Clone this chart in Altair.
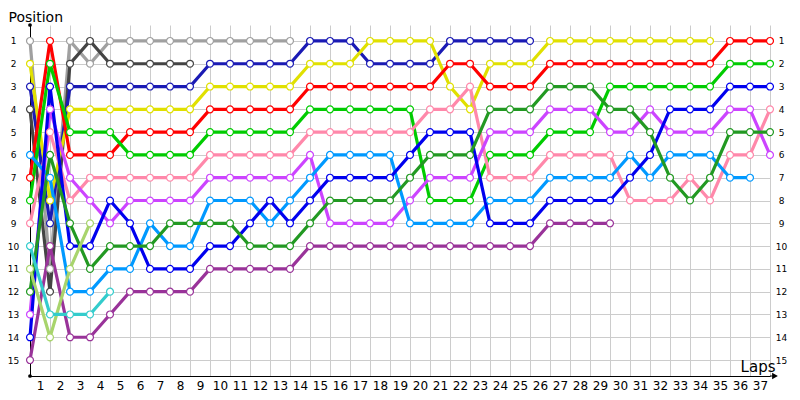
import altair as alt
import pandas as pd

# Lap positions (index 0 = starting grid, index k = lap k)
grey = [1, 11, 1, 2] + [1] * 10
black = [4, 12, 2, 1, 2, 2, 2, 2, 2]
darkblue = [3, 9, 3, 3, 3, 3, 3, 3, 3] + [2] * 5 + [1] * 3 + [2] * 4 + [1] * 5
yellow = [2, 8] + [4] * 7 + [3] * 5 + [2] * 3 + [1] * 4 + [3, 4] + [2] * 3 + [1] * 9
red = [7, 1] + [6] * 3 + [5] * 4 + [4] * 5 + [3] * 7 + [2] * 2 + [3] * 3 + [2] * 9 + [1] * 3
green = [8, 2] + [5] * 3 + [6] * 4 + [5] * 5 + [4] * 6 + [8] * 3 + [6] * 3 + [5] * 3 + [3] * 6 + [2] * 3
pink = [9, 5, 8] + [7] * 6 + [6] * 5 + [5] * 6 + [4] * 2 + [3] + [7] * 3 + [6] * 4 + [8] * 3 + [7] + [8] + [6] * 2 + [4]
magenta = [13, 4, 7, 8, 9] + [8] * 4 + [7] * 5 + [6] + [9] * 4 + [8] + [7] * 3 + [5] * 3 + [4] * 3 + [5] * 2 + [4] + [5] * 3 + [4] * 2 + [6]
lightblue = [6, 7, 12, 12, 11, 11, 9, 10, 10, 8, 8, 8, 9, 8, 7] + [6] * 4 + [9] * 4 + [8] * 3 + [7] * 4 + [6] + [7] + [6] * 3 + [7] * 2
blue = [14, 3, 10, 10, 8, 9, 11, 11, 11, 10, 10, 9, 8, 9, 8] + [7] * 4 + [6] + [5] * 3 + [9] * 3 + [8] * 4 + [7] + [6] + [4] * 3 + [3] * 3
darkgreen = [12, 6, 9, 11, 10, 10, 10, 9, 9, 9, 9, 10, 10, 10, 9] + [8] * 4 + [7] + [6] * 3 + [4] * 3 + [3] * 3 + [4] * 2 + [5] + [7] + [8] + [7] + [5] * 3
purple = [15, 10, 14, 14, 13, 12, 12, 12, 12] + [11] * 5 + [10] * 12 + [9] * 4
olive = [11, 14, 11, 9]
cyan = [10, 13, 13, 13, 12]

drivers = ["grey", "black", "darkblue", "yellow", "red", "green", "pink",
           "magenta", "lightblue", "blue", "darkgreen", "purple", "olive", "cyan"]
series = [grey, black, darkblue, yellow, red, green, pink,
          magenta, lightblue, blue, darkgreen, purple, olive, cyan]
colors = ["#a0a0a0", "#444444", "#1a1ab4", "#e0e000", "#ff0000", "#00cc00", "#ff88aa",
          "#cc44ff", "#0099ff", "#0000ee", "#229922", "#993399", "#a8d46c", "#33cccc"]

lap_ticks = list(range(1, 38))
pos_ticks = list(range(1, 16))

rows = []
for name, vals in zip(drivers, series):
    for lap, p in enumerate(vals):
        rows.append({"driver": name, "lap": lap, "pos": p})
df = pd.DataFrame(rows)

FONT = "DejaVu Sans"

x_enc = alt.X(
    "lap:Q",
    scale=alt.Scale(domain=[0, 37], nice=False, zero=False),
    axis=alt.Axis(
        values=lap_ticks, labelOffset=-10, ticks=False, labelFlush=False, labelOverlap=False,
        domainColor="black", gridColor="#cccccc", labelFontSize=12, labelPadding=4,
        labelFont=FONT, labelColor="black", title="Laps", titleX=745, titleY=-5,
        titleAlign="right", titleBaseline="alphabetic", titleFontSize=15,
        titleFontWeight="normal", titleFont=FONT, titleColor="black",
    ),
)
y_scale = alt.Scale(domain=[0.3, 15.7], reverse=True, nice=False, zero=False)
color_enc = alt.Color("driver:N", scale=alt.Scale(domain=drivers, range=colors), legend=None)

lines = alt.Chart(df).mark_line(strokeWidth=3.2).encode(
    x=x_enc,
    y=alt.Y("pos:Q", scale=y_scale, axis=alt.Axis(
        orient="left", values=pos_ticks, ticks=False, domainColor="black",
        gridColor="#cccccc", labelFontSize=9, labelFont=FONT, labelColor="black",
        labelAlign="center", labelPadding=17, labelBaseline="middle",
        title="Position", titleAngle=0, titleX=-22, titleY=-4, titleAlign="left",
        titleBaseline="alphabetic", titleFontSize=14, titleFontWeight="normal",
        titleFont=FONT, titleColor="black",
    )),
    color=color_enc,
    detail="driver:N",
)

points = alt.Chart(df).mark_point(
    shape="circle", filled=False, fill="white", fillOpacity=1, opacity=1,
    size=48, strokeWidth=1.2,
).encode(
    x=x_enc,
    y=alt.Y("pos:Q", scale=y_scale, axis=alt.Axis(
        orient="right", values=pos_ticks, ticks=False, domain=False, grid=False,
        labelFontSize=9, labelFont=FONT, labelColor="black", labelAlign="center",
        labelPadding=11, labelBaseline="middle", title="",
    )),
    color=color_enc,
)

one = pd.DataFrame({"k": [0]})
dot_top = alt.Chart(one).mark_circle(color="black", size=14, opacity=1).encode(
    x=alt.value(0), y=alt.value(0))
dot_bot = alt.Chart(one).mark_circle(color="black", size=14, opacity=1).encode(
    x=alt.value(0), y=alt.value(351))
ext = alt.Chart(one).mark_rule(color="black", strokeWidth=1).encode(
    x=alt.value(740), x2=alt.value(744), y=alt.value(351))
arrow = alt.Chart(one).mark_point(shape="triangle-right", filled=True, color="black",
                                  size=45, opacity=1).encode(
    x=alt.value(745), y=alt.value(351))

chart = alt.layer(lines, points, dot_top, dot_bot, ext, arrow).resolve_axis(
    y="independent"
).properties(
    width=740, height=351,
    padding={"left": 22, "top": 17, "right": 22, "bottom": 16},
    autosize=alt.AutoSizeParams(type="none"),
).configure_view(strokeWidth=0)

chart.save("out.html", embed_options={"renderer": "svg", "actions": False})
